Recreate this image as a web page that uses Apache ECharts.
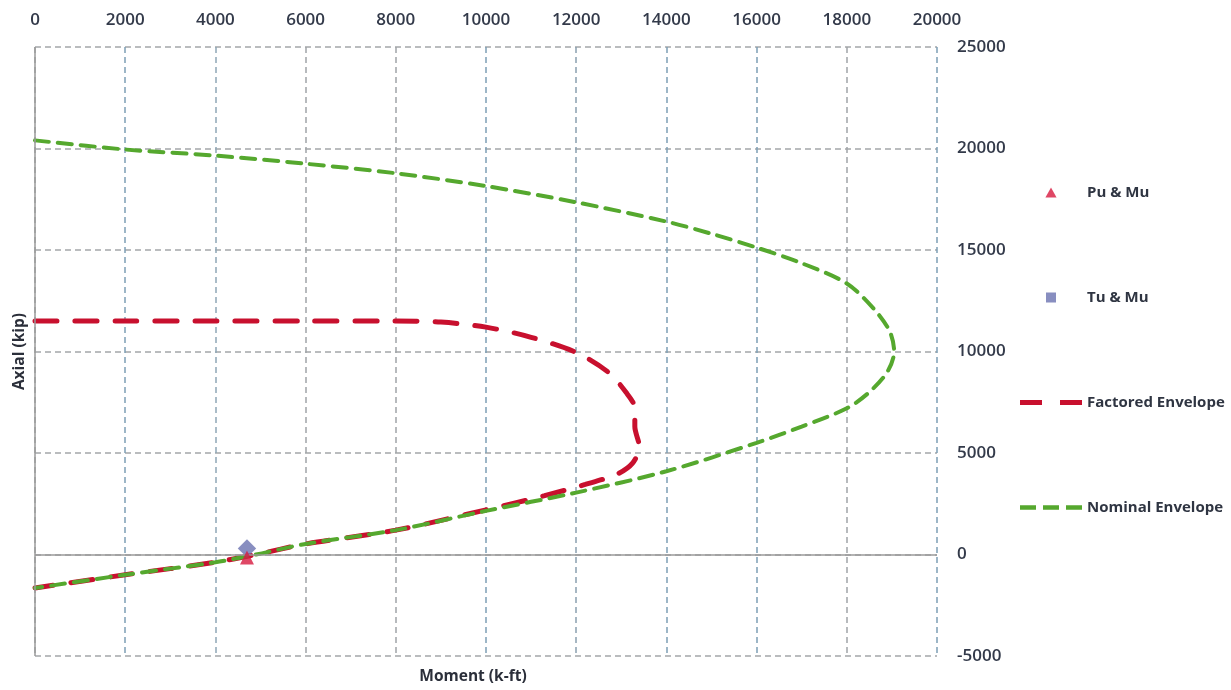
<!DOCTYPE html>
<html>
<head>
<meta charset="utf-8">
<script src="https://cdn.jsdelivr.net/npm/echarts@6/dist/echarts.min.js"></script>
<style>
html,body{margin:0;padding:0;background:#fff;}
#chart{width:1231px;height:690px;}
</style>
</head>
<body>
<div id="chart"></div>
<script>
// Moment (k-ft) ticks and Axial (kip) ticks
const momentTicks = [0, 2000, 4000, 6000, 8000, 10000, 12000, 14000, 16000, 18000, 20000];
const axialTicks = [-5000, 0, 5000, 10000, 15000, 20000, 25000];

// Nominal Envelope (moment, axial)
const nominalMoment = [0, 2000, 4000, 6000, 8000, 10000, 12000, 14000, 15000, 16000, 17000, 18000, 18600, 18950, 19050, 18900, 18500, 18000, 17000, 16000, 14000, 12000, 10000, 8000, 6000, 4900, 4000, 2000, 0];
const nominalAxial  = [20400, 19950, 19650, 19250, 18780, 18150, 17350, 16400, 15800, 15120, 14350, 13350, 12100, 11000, 10000, 9000, 8000, 7200, 6300, 5500, 4100, 3050, 2150, 1200, 520, 0, -380, -1000, -1650];

// Factored Envelope (moment, axial)
const factoredMoment = [0, 2000, 4000, 6000, 8000, 9000, 10000, 11000, 12000, 12700, 13100, 13300, 13300, 13400, 13250, 12900, 12200, 11300, 10000, 8000, 6000, 4900, 4000, 2000, 0];
const factoredAxial  = [11500, 11500, 11500, 11500, 11500, 11450, 11200, 10700, 9950, 9000, 8000, 7200, 6300, 5300, 4500, 3950, 3450, 2900, 2200, 1200, 520, 0, -380, -1000, -1650];

// Load points
const puMoment = [4700];
const puAxial = [-150];
const tuMoment = [4700];
const tuAxial = [300];

function pairs(xs, ys) { return xs.map((x, i) => [x, ys[i]]); }

const FONT = '"Open Sans", "Liberation Sans", sans-serif';
const labelColor = '#333a4a';
const vColors = ['#a0a4a8','#7d9fb5','#8fa6b6','#a0a4a8','#a0a4a8','#7d9fb5','#8aa0b0','#7d9fb5','#7d9fb5','#a0a4a8','#7d9fb5'];
const plain = v => String(v);

const chart = echarts.init(document.getElementById('chart'), null, {renderer: 'canvas'});
chart.setOption({
  backgroundColor: '#ffffff',
  animation: false,
  grid: {left: 35, right: 294, top: 47, bottom: 29, containLabel: false},
  xAxis: [{
    type: 'value', position: 'top',
    min: momentTicks[0], max: momentTicks[momentTicks.length - 1], interval: momentTicks[1] - momentTicks[0],
    axisLine: {show: false}, axisTick: {show: false},
    axisLabel: {margin: 18, fontSize: 17, color: labelColor, fontFamily: FONT, fontWeight: 600, formatter: plain},
    splitLine: {show: true, lineStyle: {color: vColors, type: [6, 4], width: 1.5}}
  }, {
    type: 'value', position: 'bottom',
    min: momentTicks[0], max: momentTicks[momentTicks.length - 1],
    axisLine: {show: false}, axisTick: {show: false}, axisLabel: {show: false}, splitLine: {show: false},
    name: 'Moment (k-ft)', nameLocation: 'middle', nameGap: 13,
    nameTextStyle: {fontSize: 15.5, fontWeight: 'bold', color: '#2b2f3a', fontFamily: FONT, padding: [0, 26, 0, 0]}
  }],
  yAxis: [{
    type: 'value', position: 'right',
    min: axialTicks[0], max: axialTicks[axialTicks.length - 1], interval: axialTicks[1] - axialTicks[0],
    axisLine: {show: false}, axisTick: {show: false},
    axisLabel: {margin: 20, fontSize: 17, color: labelColor, fontFamily: FONT, fontWeight: 600, formatter: plain},
    splitLine: {show: true, lineStyle: {color: '#a4a6a9', type: [6, 4], width: 1.5}}
  }, {
    type: 'value', position: 'left',
    min: axialTicks[0], max: axialTicks[axialTicks.length - 1],
    axisLine: {show: false}, axisTick: {show: false}, axisLabel: {show: false}, splitLine: {show: false},
    name: 'Axial (kip)', nameLocation: 'middle', nameGap: 7,
    nameTextStyle: {fontSize: 15.5, fontWeight: 'bold', color: '#2b2f3a', fontFamily: FONT}
  }],
  legend: {
    orient: 'vertical', left: 1015, top: 180,
    itemWidth: 62, itemHeight: 10, itemGap: 90,
    symbolRotate: 0, symbolKeepAspect: true,
    textStyle: {fontSize: 15, fontWeight: 'bold', color: '#2f3542', fontFamily: FONT},
    data: [
      {name: 'Pu & Mu', icon: 'path://M0,10 L5,1 L10,10 Z', itemStyle: {color: '#d7193f'}},
      {name: 'Tu & Mu', icon: 'path://M0,0 H10 V10 H0 Z', itemStyle: {color: '#6a72b0'}},
      {name: 'Factored Envelope', icon: 'path://M0,0 H22 V5 H0 Z M40,0 H62 V5 H40 Z', itemStyle: {color: '#c8102e'}},
      {name: 'Nominal Envelope', icon: 'path://M0,0 H16 V4.5 H0 Z M23,0 H39 V4.5 H23 Z M46,0 H62 V4.5 H46 Z', itemStyle: {color: '#55a82e'}}
    ]
  },
  series: [{
    name: 'Factored Envelope', type: 'line',
    data: pairs(factoredMoment, factoredAxial),
    showSymbol: false, symbol: 'none', smooth: 0.3,
    itemStyle: {color: '#c8102e'},
    lineStyle: {color: '#c8102e', width: 5, type: [22, 18], cap: 'round'},
    z: 2
  }, {
    name: 'Nominal Envelope', type: 'line',
    data: pairs(nominalMoment, nominalAxial),
    showSymbol: false, symbol: 'none', smooth: 0.3,
    itemStyle: {color: '#55a82e'},
    lineStyle: {color: '#55a82e', width: 4, type: [14, 9], cap: 'round'},
    markLine: {
      silent: true, symbol: 'none', label: {show: false},
      lineStyle: {color: '#9a9a9a', type: 'solid', width: 1.5},
      data: [{yAxis: 0}, {xAxis: 0}]
    },
    z: 3
  }, {
    name: 'Tu & Mu', type: 'scatter',
    data: pairs(tuMoment, tuAxial),
    symbol: 'rect', symbolSize: 13, symbolRotate: 45,
    itemStyle: {color: '#6a72b0'},
    z: 4
  }, {
    name: 'Pu & Mu', type: 'scatter',
    data: pairs(puMoment, puAxial),
    symbol: 'triangle', symbolSize: 14,
    itemStyle: {color: '#d7193f'},
    z: 5
  }]
});
</script>
</body>
</html>
